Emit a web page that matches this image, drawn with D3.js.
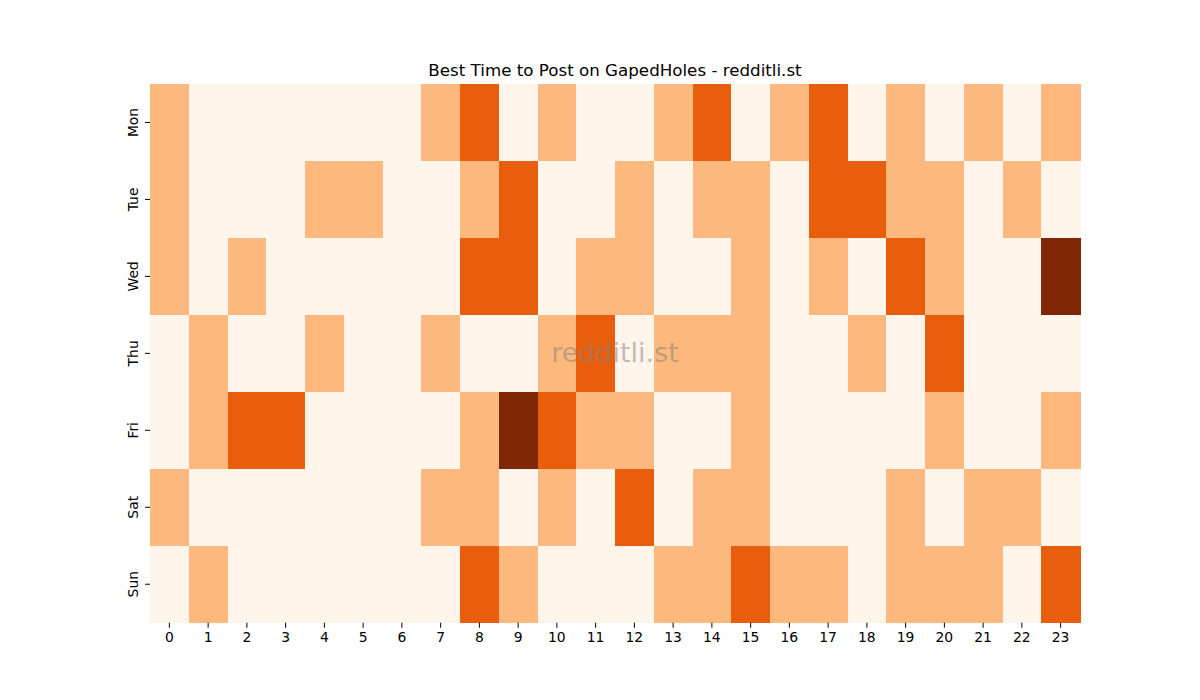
<!DOCTYPE html>
<html lang="en">
  <head>
    <meta charset="utf-8">
    <title>Best Time to Post</title>
    <script src="https://d3js.org/d3.v7.min.js"></script>
    <style>
      body { margin: 0; background: #fff; }
      text { font-family: "DejaVu Sans", sans-serif; }
    </style>
  </head>
  <body>
    <script>
    let w = 1200;
    let h = 700;

    // data
    let days = ["Mon", "Tue", "Wed", "Thu", "Fri", "Sat", "Sun"];
    let hours = d3.range(24);
    let mon = [1,0,0,0,0,0,0,1,2,0,1,0,0,1,2,0,1,2,0,1,0,1,0,1];
    let tue = [1,0,0,0,1,1,0,0,1,2,0,0,1,0,1,1,0,2,2,1,1,0,1,0];
    let wed = [1,0,1,0,0,0,0,0,2,2,0,1,1,0,0,1,0,1,0,2,1,0,0,3];
    let thu = [0,1,0,0,1,0,0,1,0,0,1,2,0,1,1,1,0,0,1,0,2,0,0,0];
    let fri = [0,1,2,2,0,0,0,0,1,3,2,1,1,0,0,1,0,0,0,0,1,0,0,1];
    let sat = [1,0,0,0,0,0,0,1,1,0,1,0,2,0,1,1,0,0,0,1,0,1,1,0];
    let sun = [0,1,0,0,0,0,0,0,2,1,0,0,0,1,1,2,1,1,0,1,1,1,0,2];
    let values = [mon, tue, wed, thu, fri, sat, sun];

    let cells = [];
    values.forEach((row, r) => row.forEach((v, c) => cells.push({day: days[r], hour: hours[c], v: v})));

    let margin = {left: 150, right: 120, top: 84, bottom: 77.3};

    let svg = d3.select("body")
                .append("svg")
                .attr("width", w)
                .attr("height", h);

    let xScale = d3.scaleBand()
        .domain(hours)
        .range([margin.left, w - margin.right]);
    let yScale = d3.scaleBand()
        .domain(days)
        .range([margin.top, h - margin.bottom]);

    let color = d3.scaleOrdinal()
        .domain([0, 1, 2, 3])
        .range(["#fff5eb", "#fdb97d", "#e95e0d", "#7f2704"]);

    svg.selectAll("rect")
      .data(cells)
      .enter()
      .append("rect")
      .attr("x", d => xScale(d.hour))
      .attr("y", d => yScale(d.day))
      .attr("width", xScale.bandwidth() + 0.5)
      .attr("height", yScale.bandwidth() + 0.5)
      .attr("fill", d => color(d.v))
      .attr("shape-rendering", "crispEdges");

    // axes
    let xAxis = svg.append("g")
      .attr("transform", `translate(0,${h - margin.bottom})`)
      .call(d3.axisBottom(xScale).tickSize(5).tickPadding(4));
    xAxis.select(".domain").remove();
    xAxis.selectAll("text").attr("font-size", 13.9).attr("fill", "#000");

    let yAxis = svg.append("g")
      .attr("transform", `translate(${margin.left},0)`)
      .call(d3.axisLeft(yScale).tickSize(5).tickPadding(4));
    yAxis.select(".domain").remove();
    yAxis.selectAll("text")
      .attr("font-size", 13.9)
      .attr("fill", "#000")
      .attr("text-anchor", "middle")
      .attr("x", 0)
      .attr("dy", 0)
      .attr("transform", "translate(-17,0) rotate(-90)")
      .attr("dominant-baseline", "central");

    // title
    svg.append("text")
      .attr("x", (margin.left + w - margin.right) / 2)
      .attr("y", 76)
      .attr("text-anchor", "middle")
      .attr("font-size", 16.7)
      .attr("fill", "#000")
      .text("Best Time to Post on GapedHoles - redditli.st");

    // watermark
    svg.append("text")
      .attr("x", 615)
      .attr("y", 362)
      .attr("text-anchor", "middle")
      .attr("font-size", 27)
      .attr("fill", "#808080")
      .attr("fill-opacity", 0.5)
      .text("redditli.st");
    </script>
  </body>
</html>
